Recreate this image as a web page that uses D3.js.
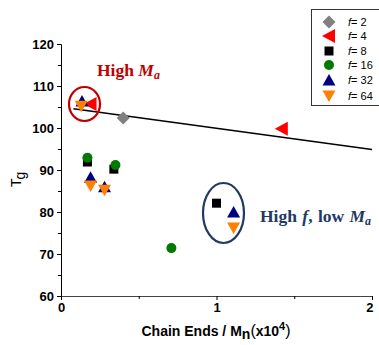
<!DOCTYPE html>
<html><head><meta charset="utf-8">
<script src="https://cdn.jsdelivr.net/npm/d3@7"></script>
<style>body{margin:0;background:#fff}svg{display:block}</style>
</head><body>
<svg id="c" width="379" height="345"></svg>
<script>
const seriesNames = ["f = 2","f = 4","f = 8","f = 16","f = 32","f = 64"];
const fValues = [2,4,8,16,32,64];
const f2 = [[0.40,102.4]];
const f4 = [[0.19,105.7],[1.42,99.8]];
const f8 = [[0.17,91.9],[0.34,90.2],[1.00,82.1]];
const f16 = [[0.17,92.9],[0.35,91.2],[0.71,71.4]];
const f32 = [[0.135,106.4],[0.19,88.3],[0.28,86.0],[1.11,80.0]];
const f64 = [[0.13,105.2],[0.19,86.2],[0.28,85.2],[1.11,76.2]];
const fitLine = [[0.08,104.6],[2.0,94.9]];
const xTicks = [0,1,2];
const yTicks = [60,70,80,90,100,110,120];

const svg = d3.select("#c");
const x = d3.scaleLinear().domain([0,2]).range([61,372]);
const y = d3.scaleLinear().domain([60,120]).range([296,44]);

const colors = ["#808080","#ff0000","#000000","#007a00","#000080","#ff8000"];
const shapes = ["diamond","left","square","circle","up","down"];
const data = [f2,f4,f8,f16,f32,f64];

function marker(g, shape, color){
  if(shape==="diamond") g.append("path").attr("d","M0,-6.5L6.5,0L0,6.5L-6.5,0Z").attr("fill",color);
  else if(shape==="left") g.append("path").attr("d","M-7,0L6,-7L6,7Z").attr("fill",color);
  else if(shape==="square") g.append("rect").attr("x",-4.5).attr("y",-4.5).attr("width",9).attr("height",9).attr("fill",color);
  else if(shape==="circle") g.append("circle").attr("r",5).attr("fill",color);
  else if(shape==="up") g.append("path").attr("d","M0,-6L6.5,5.5L-6.5,5.5Z").attr("fill",color);
  else if(shape==="down") g.append("path").attr("d","M-6.5,-5.5L6.5,-5.5L0,6Z").attr("fill",color);
}

// axes
const fmt = d3.format("d");
const yAxis = d3.axisLeft(y).tickValues(yTicks).tickFormat(fmt).tickSize(4).tickPadding(3);
const yMinor = d3.axisLeft(y).tickValues(d3.range(65,120,10)).tickSize(3).tickFormat("");
const xAxis = d3.axisBottom(x).tickValues(xTicks).tickFormat(fmt).tickSize(4).tickPadding(3);
const xMinor = d3.axisBottom(x).tickValues([0.5,1.5]).tickSize(3).tickFormat("");

const gy = svg.append("g").attr("transform","translate(61,0)").call(yAxis);
svg.append("g").attr("transform","translate(61,0)").call(yMinor).select(".domain").remove();
const gx = svg.append("g").attr("transform","translate(0,296)").call(xAxis);
svg.append("g").attr("transform","translate(0,296)").call(xMinor).select(".domain").remove();
svg.selectAll(".tick text").attr("font-family","Arial, Liberation Sans, sans-serif").attr("font-weight","bold").attr("font-size",13).attr("fill","#000");
gx.selectAll(".tick text").filter(d=>d===2).attr("text-anchor","end").attr("dx",1);
svg.selectAll(".domain").attr("stroke","#000");
gx.select(".domain").attr("stroke","#444");

// fit line
svg.append("path").datum(fitLine)
  .attr("d", d3.line().x(d=>x(d[0])).y(d=>y(d[1])))
  .attr("stroke","#000").attr("stroke-width",1.6).attr("fill","none");

// points
data.forEach((arr,i)=>{
  arr.forEach(p=>{
    const g = svg.append("g").attr("transform",`translate(${x(p[0])},${y(p[1])})`);
    marker(g, shapes[i], colors[i]);
  });
});

// ellipses
svg.append("ellipse").attr("cx",84.5).attr("cy",104).attr("rx",15.5).attr("ry",17)
  .attr("fill","none").attr("stroke","#c00000").attr("stroke-width",2.2);
svg.append("ellipse").attr("cx",223.5).attr("cy",213).attr("rx",20.5).attr("ry",30)
  .attr("fill","none").attr("stroke","#1f3864").attr("stroke-width",2.2);

// annotations
const t1 = svg.append("text").attr("x",97).attr("y",76).attr("font-family","Liberation Serif, Times New Roman, serif")
  .attr("font-weight","bold").attr("font-size",17.5).attr("fill","#c00000");
t1.append("tspan").text("High ");
t1.append("tspan").attr("font-style","italic").text("M");
t1.append("tspan").attr("font-style","italic").attr("font-size",12).attr("dy",3).text("a");

const t2 = svg.append("text").attr("x",260).attr("y",222).attr("font-family","Liberation Serif, Times New Roman, serif")
  .attr("font-weight","bold").attr("font-size",17.5).attr("word-spacing",1).attr("fill","#1f3864");
t2.append("tspan").text("High ");
t2.append("tspan").attr("font-style","italic").text("f");
t2.append("tspan").text(", low ");
t2.append("tspan").attr("font-style","italic").text("M");
t2.append("tspan").attr("font-style","italic").attr("font-size",12).attr("dy",3).text("a");

// axis titles
const yt = svg.append("text").attr("transform","translate(20.7,187) rotate(-90)").attr("text-anchor","start")
  .attr("font-family","Arial, Liberation Sans, sans-serif").attr("font-size",14).attr("fill","#000");
yt.append("tspan").text("T");
yt.append("tspan").attr("dy",4).attr("dx",-1).text("g");

const xt = svg.append("text").attr("x",216).attr("y",336).attr("text-anchor","middle")
  .attr("font-family","Arial, Liberation Sans, sans-serif").attr("font-weight","bold").attr("font-size",14).attr("fill","#000");
xt.append("tspan").text("Chain Ends / M");
xt.append("tspan").attr("dy",3).text("n");
xt.append("tspan").attr("dy",-3).attr("font-size",16).attr("font-weight","normal").text("(");
xt.append("tspan").text("x10");
xt.append("tspan").attr("dy",-6).attr("font-size",11).text("4");
xt.append("tspan").attr("dy",6).attr("font-size",16).attr("font-weight","normal").text(")");

// legend
const lg = svg.append("g");
lg.append("rect").attr("x",311.5).attr("y",9.5).attr("width",70).attr("height",96)
  .attr("fill","#fff").attr("stroke","#333").attr("stroke-width",1);
const ly = [22,36,51,65,80,96];
seriesNames.forEach((n,i)=>{
  const g = lg.append("g").attr("transform",`translate(329,${ly[i]})`);
  marker(g, shapes[i], colors[i]);
  const t = lg.append("text").attr("x",348).attr("y",ly[i]+4)
    .attr("font-family","Arial, Liberation Sans, sans-serif").attr("font-size",11).attr("fill","#000");
  t.append("tspan").attr("font-style","italic").text("f");
  t.append("tspan").text("= " + fValues[i]);
});
</script>
</body></html>
